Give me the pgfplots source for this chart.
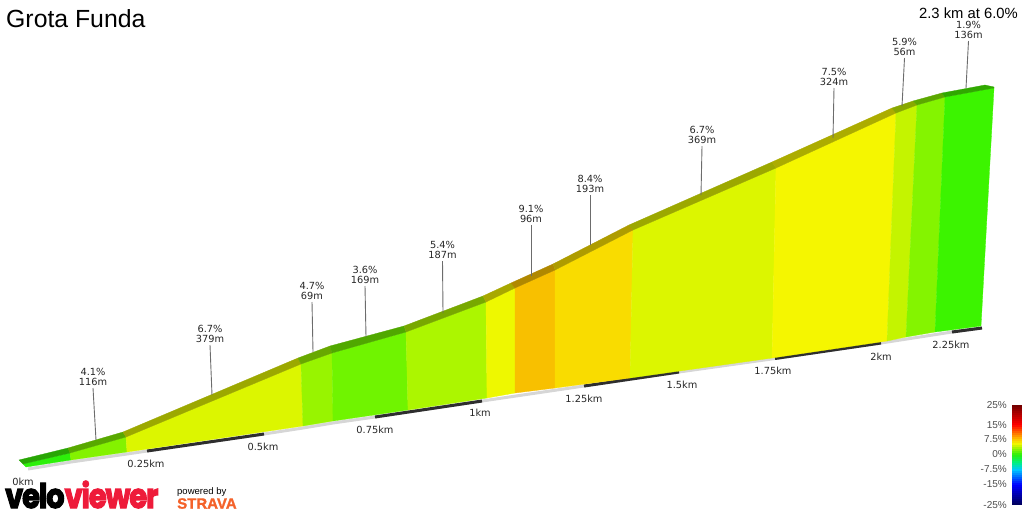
\documentclass[border=0pt]{standalone}
\usepackage{fontspec}
\usepackage{pgfplots}
\pgfplotsset{compat=1.18}
\setmainfont{Liberation Sans}
\newfontfamily\lab{DejaVu Sans}
\newfontfamily\logofont[LetterSpace=-4,FakeBold=3.5]{Poppins Bold}
\newfontfamily\stravafont[FakeBold=1.5]{Liberation Sans Bold}
\definecolor{c1}{HTML}{2DF00A}\definecolor{r1}{HTML}{28A505}
\definecolor{c2}{HTML}{84F200}\definecolor{r2}{HTML}{58A800}
\definecolor{c3}{HTML}{DCF600}\definecolor{r3}{HTML}{9CA800}
\definecolor{c4}{HTML}{98F400}\definecolor{r4}{HTML}{68A800}
\definecolor{c5}{HTML}{70F400}\definecolor{r5}{HTML}{50A800}
\definecolor{c6}{HTML}{ACF600}\definecolor{r6}{HTML}{78A800}
\definecolor{c7}{HTML}{EEF800}\definecolor{r7}{HTML}{A8A800}
\definecolor{c8}{HTML}{F8C000}\definecolor{r8}{HTML}{B08800}
\definecolor{c9}{HTML}{F9DC00}\definecolor{r9}{HTML}{AE9C00}
\definecolor{c10}{HTML}{DCF600}\definecolor{r10}{HTML}{9CA800}
\definecolor{c11}{HTML}{F5F600}\definecolor{r11}{HTML}{ACAC00}
\definecolor{c12}{HTML}{C4F400}\definecolor{r12}{HTML}{88A800}
\definecolor{c13}{HTML}{84F400}\definecolor{r13}{HTML}{5CA800}
\definecolor{c14}{HTML}{3CF400}\definecolor{r14}{HTML}{30A800}
\newcommand{\poly}[2]{\addplot[fill=#1,draw=#1,line width=0.3pt,forget plot] coordinates {#2} --cycle;}
\newcommand{\lead}[6]{%
 \addplot[color=gray!85!black,line width=0.9pt,forget plot] coordinates {(#1,#2) (#3,#4)};%
 \node[font=\lab\fontsize{9.8}{10}\selectfont,text=black!85,inner sep=0] at (axis cs:#1,#2-16) {#5};%
 \node[font=\lab\fontsize{9.8}{10}\selectfont,text=black!85,inner sep=0] at (axis cs:#1,#2-6) {#6};}
\newcommand{\km}[3]{\node[font=\lab\fontsize{9.8}{10}\selectfont,text=black!85,inner sep=0] at (axis cs:#1,#2) {#3};}
\newcommand{\sca}[2]{\node[anchor=east,font=\fontsize{10}{10}\selectfont,text=black!70,inner sep=0] at (axis cs:1007,#1) {#2};}
\begin{document}
\begin{tikzpicture}
\begin{axis}[at={(0pt,0pt)},anchor=south west,scale only axis,width=1024pt,height=512pt,xmin=0,xmax=1024,ymin=0,ymax=512,y dir=reverse,axis lines=none,clip=false,
 colormap={vv}{rgb255(0)=(110,0,0) rgb255(20)=(255,0,0) rgb255(34)=(255,190,0) rgb255(39)=(240,245,0) rgb255(50)=(40,240,10) rgb255(58)=(0,240,130) rgb255(65)=(0,200,255) rgb255(80)=(0,0,255) rgb255(100)=(0,0,90)},
 point meta min=405,point meta max=505]
% base strip
\addplot[color=gray!32,line width=3pt,forget plot] coordinates {(28,469)(71,462)(127,454)(147,451)(264,434)(303,428)(333,423)(375,417)(408,412)(482,401)(584,386)(679,372)(775,358.5)(881,343)(952,332)(982,328)};
\addplot[color=black!82,line width=3pt,forget plot] coordinates {(147,451)(264,434)};
\addplot[color=black!82,line width=3pt,forget plot] coordinates {(375,417)(482,401)};
\addplot[color=black!82,line width=3pt,forget plot] coordinates {(584,386)(679,372)};
\addplot[color=black!82,line width=3pt,forget plot] coordinates {(775,358.5)(881,343)};
\addplot[color=black!82,line width=3pt,forget plot] coordinates {(952,332)(982,328)};
% faces
\poly{c1}{(23,464)(70,453)(71,460)(26,467)}
\poly{c2}{(70,453)(126,437)(127,452)(71,460)}
\poly{c3}{(126,437)(301,364)(303,426)(127,452)}
\poly{c4}{(301,364)(332,353)(333,421)(303,426)}
\poly{c5}{(332,353)(406,332)(408,410)(333,421)}
\poly{c6}{(406,332)(486,302)(487,398)(408,410)}
\poly{c7}{(486,302)(515,288)(515,393)(487,398)}
\poly{c8}{(515,288)(555,270)(555,388)(515,393)}
\poly{c9}{(555,270)(633,230)(630,378)(555,388)}
\poly{c10}{(633,230)(776,168)(772,358)(630,378)}
\poly{c11}{(776,168)(896,113)(887,341)(772,358)}
\poly{c12}{(896,113)(917,105)(906,337)(887,341)}
\poly{c13}{(917,105)(945,97)(935,332)(906,337)}
\poly{c14}{(945,97)(994,88)(981,326)(935,332)}
% ridge
\poly{r1}{(19,460)(68,448)(70,453)(23,464)}
\poly{r2}{(68,448)(123,432)(126,437)(70,453)}
\poly{r3}{(123,432)(298,358)(301,364)(126,437)}
\poly{r4}{(298,358)(330,346)(332,353)(301,364)}
\poly{r5}{(330,346)(404,326)(406,332)(332,353)}
\poly{r6}{(404,326)(483,296)(486,302)(406,332)}
\poly{r7}{(483,296)(511,283)(515,288)(486,302)}
\poly{r8}{(511,283)(553,264)(555,270)(515,288)}
\poly{r9}{(553,264)(629,225)(633,230)(555,270)}
\poly{r10}{(629,225)(772,162)(776,168)(633,230)}
\poly{r11}{(772,162)(892,108)(896,113)(776,168)}
\poly{r12}{(892,108)(913,101)(917,105)(896,113)}
\poly{r13}{(913,101)(942,93)(945,97)(917,105)}
\poly{r14}{(942,93)(985,85)(994,87)(994,88)(945,97)}
% leaders and labels
\lead{93}{388}{96}{440}{4.1\%}{116m}
\lead{210}{345}{212}{395}{6.7\%}{379m}
\lead{312}{302}{313}{352}{4.7\%}{69m}
\lead{365}{286}{366}{337}{3.6\%}{169m}
\lead{442.5}{261}{443}{313}{5.4\%}{187m}
\lead{531}{225}{531}{276}{9.1\%}{96m}
\lead{590}{195}{590}{245}{8.4\%}{193m}
\lead{702}{146}{701}{195}{6.7\%}{369m}
\lead{834}{88}{833}{138}{7.5\%}{324m}
\lead{904.5}{58}{902}{106}{5.9\%}{56m}
\lead{968.5}{41}{966}{88}{1.9\%}{136m}
\km{23}{482}{0km}\km{146}{464}{0.25km}\km{263}{447}{0.5km}\km{375}{430}{0.75km}\km{480}{413}{1km}
\km{584}{399}{1.25km}\km{682}{385}{1.5km}\km{773}{371}{1.75km}\km{881}{357}{2km}\km{951}{345}{2.25km}
% titles
\node[anchor=west,font=\fontsize{24.8}{25}\selectfont,inner sep=0] at (axis cs:6,19) {Grota Funda};
\node[anchor=east,font=\fontsize{14.8}{15}\selectfont,inner sep=0] at (axis cs:1018,13) {2.3 km at 6.0\%};
% colour scale
\addplot[mesh,point meta=y,line width=10pt,forget plot] coordinates {(1017,405)(1017,407)(1017,409)(1017,411)(1017,413)(1017,415)(1017,417)(1017,419)(1017,421)(1017,423)(1017,425)(1017,427)(1017,429)(1017,431)(1017,433)(1017,435)(1017,437)(1017,439)(1017,441)(1017,443)(1017,445)(1017,447)(1017,449)(1017,451)(1017,453)(1017,455)(1017,457)(1017,459)(1017,461)(1017,463)(1017,465)(1017,467)(1017,469)(1017,471)(1017,473)(1017,475)(1017,477)(1017,479)(1017,481)(1017,483)(1017,485)(1017,487)(1017,489)(1017,491)(1017,493)(1017,495)(1017,497)(1017,499)(1017,501)(1017,503)(1017,505)};
\sca{405}{25\%}\sca{425}{15\%}\sca{439}{7.5\%}\sca{454}{0\%}\sca{469}{-7.5\%}\sca{484}{-15\%}\sca{505}{-25\%}
% logo
\node[anchor=base west,inner sep=0] at (axis cs:5,508) {\scalebox{0.85}[1]{\logofont\fontsize{34}{34}\selectfont velo\textcolor[HTML]{EE1B3A}{viewer}}};
\node[anchor=west,font=\fontsize{9.5}{10}\selectfont,inner sep=0] at (axis cs:177,492) {powered by};
\node[anchor=west,font=\stravafont\fontsize{15}{15}\selectfont,text={rgb,255:red,244;green,98;blue,42},inner sep=0] at (axis cs:177,503.5) {STRAVA};
\end{axis}
\path[use as bounding box] (0pt,0pt) rectangle (1024pt,512pt);
\end{tikzpicture}
\end{document}
